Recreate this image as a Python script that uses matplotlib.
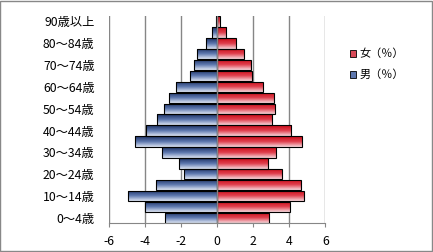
import numpy as np
import matplotlib
matplotlib.use("Agg")
import matplotlib.pyplot as plt
from matplotlib.colors import LinearSegmentedColormap
from matplotlib.patches import Rectangle, Patch

plt.rcParams["font.family"] = ["Noto Sans CJK JP", "DejaVu Sans"]

# 年齢階級 (下から上へ)
ages = ["0～4歳", "5～9歳", "10～14歳", "15～19歳", "20～24歳", "25～29歳",
        "30～34歳", "35～39歳", "40～44歳", "45～49歳", "50～54歳", "55～59歳",
        "60～64歳", "65～69歳", "70～74歳", "75～79歳", "80～84歳", "85～89歳",
        "90歳以上"]
male = [2.85, 4.0, 4.9, 3.35, 1.8, 2.08, 3.02, 4.51, 3.9, 3.3,
        2.93, 2.63, 2.28, 1.47, 1.25, 1.09, 0.59, 0.26, 0.06]
female = [2.9, 4.01, 4.79, 4.62, 3.57, 2.8, 3.29, 4.7, 4.12, 3.02,
          3.2, 3.13, 2.52, 1.93, 1.86, 1.47, 1.03, 0.5, 0.15]
xticks = [-6, -4, -2, 0, 2, 4, 6]

cm_m = LinearSegmentedColormap.from_list("m", ["#1d3163", "#5d77ae", "#dde5f3"])
cm_f = LinearSegmentedColormap.from_list("f", ["#c80a16", "#e0404e", "#f7d8dc"])
grad = np.linspace(0, 1, 64).reshape(-1, 1)

fig = plt.figure(figsize=(4.33, 2.52), dpi=100)
ax = fig.add_axes([0.2506, 0.1139, 0.5011, 0.8226])

y = np.arange(len(ages))
h = 0.96
bars_m = ax.barh(y, [-v for v in male], height=h, facecolor="none",
                 edgecolor="black", linewidth=0.8, zorder=3)
bars_f = ax.barh(y, female, height=h, facecolor="none",
                 edgecolor="black", linewidth=0.8, zorder=3)

# グラデーション塗り (上が濃く、下が淡い)
for bars, cmap in ((bars_m, cm_m), (bars_f, cm_f)):
    for b in bars:
        x0, y0 = b.get_x(), b.get_y()
        x1, y1 = x0 + b.get_width(), y0 + b.get_height()
        im = ax.imshow(grad, extent=[min(x0, x1), max(x0, x1), y0, y1],
                       origin="upper", aspect="auto", cmap=cmap, zorder=2)
        im.set_clip_path(b)

ax.set_xlim(-6, 6)
ax.set_ylim(-0.5, len(ages) - 0.5)
ax.set_xticks(xticks)
ax.set_xticklabels([str(t) for t in xticks], fontsize=8.8)
ax.set_yticks(y[::2])
ax.set_yticklabels(ages[::2], fontsize=8.8)
ax.tick_params(axis="y", length=0, pad=10)
ax.tick_params(axis="x", length=3, color="#868686", direction="out", pad=5.5)

for s in ("top", "right", "left"):
    ax.spines[s].set_visible(False)
ax.spines["bottom"].set_color("#868686")
ax.grid(axis="x", color="#868686", linewidth=1, zorder=0)
ax.set_axisbelow(True)
ax.axvline(0, color="#868686", linewidth=1, zorder=4)

handles = [Patch(facecolor="#d94a58", edgecolor="black", linewidth=0.6, label="女（％）"),
           Patch(facecolor="#5d77ae", edgecolor="black", linewidth=0.6, label="男（％）")]
fig.legend(handles=handles, loc="upper left", bbox_to_anchor=(0.797, 0.825),
           frameon=False, fontsize=8, handlelength=0.55, handleheight=0.55,
           handletextpad=0.35, labelspacing=0.95, borderaxespad=0)

fig.patches.append(Rectangle((0.001, 0.002), 0.997, 0.995, transform=fig.transFigure,
                             fill=False, edgecolor="#888888", linewidth=1))

fig.savefig("out.png", dpi=100)
